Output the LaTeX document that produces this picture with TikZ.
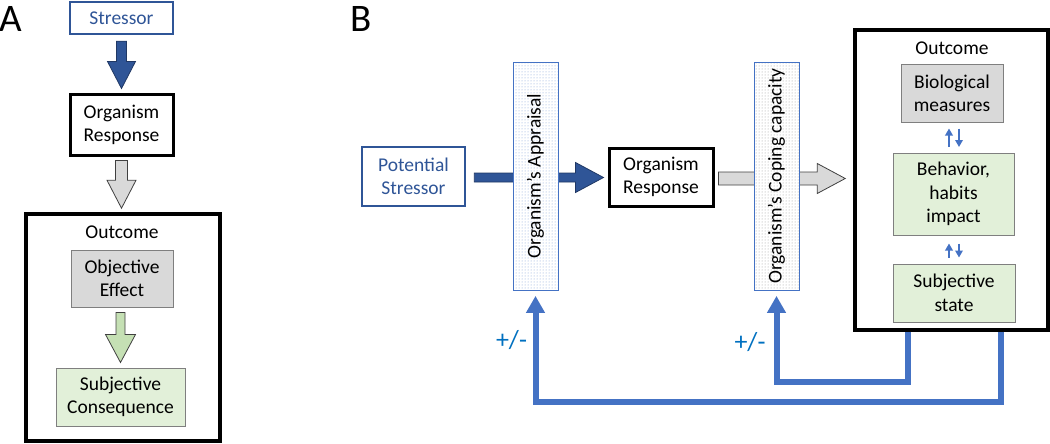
\documentclass[tikz,border=0pt]{standalone}
\usepackage{fontspec}
\setmainfont{Carlito}
\usetikzlibrary{calc,arrows.meta,patterns}
\definecolor{dblue}{HTML}{2F5597}
\definecolor{dkblue}{HTML}{203864}
\definecolor{mblue}{HTML}{4472C4}
\definecolor{pmblue}{HTML}{0070C0}
\definecolor{lgray}{HTML}{D9D9D9}
\definecolor{lgreen}{HTML}{E2F0D9}
\definecolor{mgreen}{HTML}{C5E0B4}
\definecolor{bgray}{HTML}{7F7F7F}
\definecolor{dotblue}{HTML}{7F9FD8}
\definecolor{dotgray}{HTML}{999999}
\newcommand\bodyfont{\fontsize{19.5}{23.5}\selectfont}
% vertical block arrow: style, top, tip, half shaft, half head, head length
\newcommand\vblock[6]{%
  \draw[#1] let \p1=#2, \p2=#3 in
    (\x1-#4,\y1) -- (\x1+#4,\y1) -- (\x1+#4,\y2+#6) -- (\x1+#5,\y2+#6) --
    (\x1,\y2) -- (\x1-#5,\y2+#6) -- (\x1-#4,\y2+#6) -- cycle;}
% horizontal block arrow: style, start, tip, half shaft, half head, head length
\newcommand\hblock[6]{%
  \draw[#1] let \p1=#2, \p2=#3 in
    (\x1,\y1+#4) -- (\x2-#6,\y1+#4) -- (\x2-#6,\y1+#5) -- (\x2,\y1) --
    (\x2-#6,\y1-#5) -- (\x2-#6,\y1-#4) -- (\x1,\y1-#4) -- cycle;}
\tikzset{
  every node/.style={font=\bodyfont, inner sep=0pt, align=center},
  bluebox/.style={draw=dblue, line width=2.5pt, text=dblue},
  blackbox/.style={draw=black, line width=3pt},
  outbox/.style={draw=black, line width=3.5pt},
  graybox/.style={draw=bgray, line width=1pt, fill=lgray},
  greenbox/.style={draw=bgray, line width=1pt, fill=lgreen},
  barA/.style={draw=mblue, line width=0.8pt, preaction={fill=white}, pattern=dots, pattern color=dotblue, rotate=90},
  barB/.style={draw=mblue, line width=0.8pt, preaction={fill=white}, pattern=dots, pattern color=dotgray, rotate=90},
  bluearrow/.style={fill=dblue, draw=dkblue, line width=0.8pt},
  grayarrow/.style={fill=lgray, draw=black!75, line width=0.8pt},
  greenarrow/.style={fill=mgreen, draw=black!75, line width=0.8pt},
  fb/.style={draw=mblue, line width=6pt, -{Triangle[width=18pt,length=17pt]}},
  sm/.style={draw=mblue, line width=2.6pt, -{Triangle[width=7.5pt,length=7pt]}},
  pm/.style={text=pmblue, font=\fontsize{26}{30}\selectfont},
  panel/.style={font=\fontsize{39}{44}\selectfont, anchor=base west},
}
\begin{document}
\begin{tikzpicture}[x=1pt,y=-1pt]
\path[use as bounding box] (0,0) rectangle (1050,444);

% ---------- Panel A ----------
\node[panel] (labA) at (-1,32) {A};
\node[bluebox, minimum width=103, minimum height=32] (sa) at (121.5,18) {Stressor};
\node[blackbox, minimum width=103, minimum height=60] (ra) at (121.5,125) {Organism\\Response};
\node[outbox, minimum width=194, minimum height=227] (oa) at (123,327.5) {};
\node (oat) at (122,232) {Outcome};
\node[graybox, minimum width=102, minimum height=57] (obj) at (122,278.5) {Objective\\Effect};
\node[greenbox, minimum width=129, minimum height=58] (subj) at (120.5,397) {Subjective\\Consequence};

\vblock{bluearrow}{($(sa.south)+(0,6)$)}{($(ra.north)+(0,-5)$)}{5}{14}{27}
\vblock{grayarrow}{($(ra.south)+(0,4)$)}{($(oa.north)+(0,-4)$)}{6}{14.5}{28}
\vblock{greenarrow}{($(obj.south)+(-1.5,5)$)}{($(subj.north)+(0,-5)$)}{4.5}{15}{28}

% ---------- Panel B ----------
\node[panel] (labB) at (350,32) {B};
\node[bluebox, minimum width=103, minimum height=59] (ps) at (413.5,176.5) {Potential\\Stressor};
\node[blackbox, minimum width=104, minimum height=58] (rb) at (661,177) {Organism\\Response};
\node[outbox, minimum width=193, minimum height=300] (ob) at (951.5,180) {};
\node (obt) at (952,48) {Outcome};
\node[graybox, minimum width=102, minimum height=57] (bio) at (952,93.5) {Biological\\measures};
\node[greenbox, minimum width=121, minimum height=82] (beh) at (953.5,194) {Behavior,\\habits\\impact};
\node[greenbox, minimum width=122, minimum height=58] (subb) at (954,293) {Subjective\\state};

\hblock{bluearrow}{($(ps.east)+(8,1)$)}{($(rb.west)+(-4,0)$)}{4.5}{15}{28}
\hblock{grayarrow}{($(rb.east)+(4,1.5)$)}{($(ob.west)+(-8,0)$)}{6.5}{15}{28}

\node[barA, minimum width=228, minimum height=45] (ab) at (535.5,176) {Organism’s Appraisal};
\node[barB, minimum width=228, minimum height=45] (cb) at (776.5,176) {Organism’s Coping capacity};

\draw[sm] ($(bio.south)+(-3,24.5)$) -- ($(bio.south)+(-3,6)$);
\draw[sm] ($(bio.south)+(7,6)$) -- ($(bio.south)+(7,24.5)$);
\draw[sm] ($(beh.south)+(-4.5,22)$) -- ($(beh.south)+(-4.5,8)$);
\draw[sm] ($(beh.south)+(5.5,8)$) -- ($(beh.south)+(5.5,22)$);

\draw[fb] ($(ob.south west)+(55,0)$) -- ++(0,50) -| ($(cb.west)+(0,5.5)$);
\draw[fb] ($(ob.south west)+(148,0)$) -- ++(0,70) -| ($(ab.west)+(0,5.5)$);

\node[pm] (pm1) at (511.5,340.5) {+/-};
\node[pm] (pm2) at (750,342) {+/-};
\end{tikzpicture}
\end{document}
